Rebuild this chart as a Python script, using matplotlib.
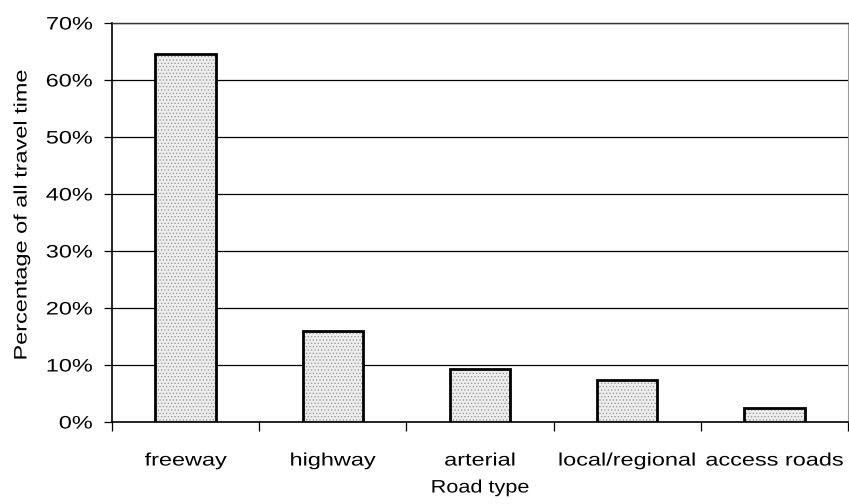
import matplotlib
matplotlib.use("Agg")
import matplotlib.pyplot as plt
from matplotlib.patheffects import AbstractPathEffect
from matplotlib.transforms import Affine2D
import numpy as np

categories = ["freeway", "highway", "arterial", "local/regional", "access roads"]
values = [64.5, 16.0, 9.3, 7.4, 2.5]
yticks = [0, 10, 20, 30, 40, 50, 60, 70]
ytick_labels = ["0%", "10%", "20%", "30%", "40%", "50%", "60%", "70%"]

plt.rcParams['font.family'] = ['Liberation Sans', 'DejaVu Sans']
plt.rcParams['hatch.linewidth'] = 0.6


class Stretch(AbstractPathEffect):
    """Widen glyphs horizontally about a chosen anchor of the ink box."""
    def __init__(self, sx=1.3, anchor='center'):
        super().__init__()
        self.sx = sx
        self.anchor = anchor

    def draw_path(self, renderer, gc, tpath, affine, rgbFace=None):
        ext = tpath.get_extents()
        if self.anchor == 'right':
            cx = ext.x1
        elif self.anchor == 'left':
            cx = ext.x0
        else:
            cx = 0.5 * (ext.x0 + ext.x1)
        t = Affine2D().translate(-cx, 0).scale(self.sx, 1).translate(cx, 0) + affine
        renderer.draw_path(gc, tpath, t, rgbFace)


SX = 1.3
FS = 13

fig = plt.figure(figsize=(8.49, 5.04), dpi=100)
ax = fig.add_axes([112/849, 1-422/504, (848-112)/849, (422-23)/504])

x = np.arange(len(categories))
ax.bar(x, values, width=0.41, color='#eeeeee', edgecolor='#9a9a9a', linewidth=0,
       hatch='.....', zorder=3)
ax.bar(x, values, width=0.41, color='none', edgecolor='black', linewidth=2, zorder=4)

ax.set_xlim(-0.5, len(categories) - 0.5)
ax.set_ylim(0, 70)
ax.set_yticks(yticks)
ax.set_yticklabels(ytick_labels, fontsize=FS)
for y in yticks[1:]:
    ax.axhline(y, color='black', linewidth=0.9, zorder=1)

ax.set_xticks(x)
ax.set_xticklabels(categories, fontsize=FS)
ax.tick_params(axis='x', length=0, pad=22)
ax.set_xticks(np.arange(len(categories) + 1) - 0.5, minor=True)
ax.tick_params(axis='x', which='minor', length=6.5, width=0.9, direction='out', color='black')
ax.tick_params(axis='y', length=5.5, width=0.9, direction='out', pad=8.5)

for lab in ax.get_yticklabels():
    lab.set_path_effects([Stretch(SX, 'right')])
for lab in ax.get_xticklabels():
    lab.set_path_effects([Stretch(SX, 'center')])

for s in ['left', 'bottom']:
    ax.spines[s].set_linewidth(1.2)
    ax.spines[s].set_color('black')
ax.spines['top'].set_linewidth(1.0)
ax.spines['top'].set_color('#333333')
ax.spines['right'].set_linewidth(0.8)
ax.spines['right'].set_color('#999999')
ax.spines['right'].set_linestyle((0, (1, 1)))

fig.text(480/849, 1 - 488/504, "Road type", fontsize=FS, ha='center', va='center',
         path_effects=[Stretch(1.2, 'center')])
fig.text(22/849, 1 - 215/504, "Percentage of all travel time", fontsize=FS,
         rotation=90, ha='center', va='center', path_effects=[Stretch(SX, 'center')])

fig.savefig("out.png", dpi=100)
